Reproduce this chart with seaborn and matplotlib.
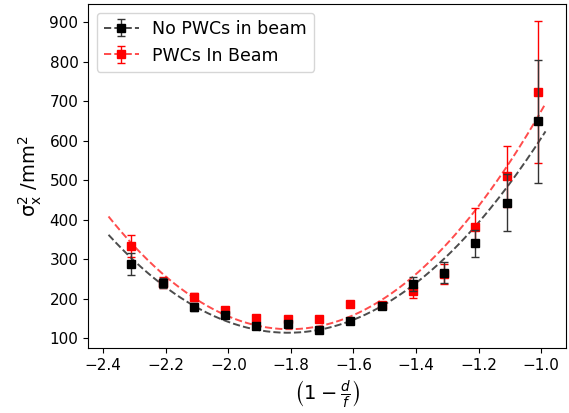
import numpy as np
import pandas as pd
import matplotlib
matplotlib.use("Agg")
import matplotlib.pyplot as plt
import seaborn as sns
from matplotlib.legend_handler import HandlerTuple

# ── Data ──────────────────────────────────────────────────────────────────────
x_pos = [-2.31, -2.21, -2.11, -2.01, -1.91, -1.81, -1.71,
         -1.61, -1.51, -1.41, -1.31, -1.21, -1.11, -1.01]

no_pwc_y   = [289, 239, 178, 159, 131, 137, 120, 144, 182, 238, 266, 340, 443, 649]
no_pwc_err = [28, 13, 10, 8, 6, 6, 5, 6, 8, 18, 27, 34, 72, 156]

pwc_y   = [333, 241, 205, 171, 152, 149, 149, 186, 184, 220, 262, 382, 510, 723]
pwc_err = [28, 13, 10, 8, 6, 6, 6, 7, 8, 17, 25, 48, 78, 180]

# quadratic fit coefficients (a, b, c) for a*x^2 + b*x + c
no_pwc_fit = [752.7, 2723.3, 2577.2]
pwc_fit    = [853.0, 3078.5, 2900.5]
fit_range  = [-2.383, -0.986]

LABELS = ["No PWCs in beam", "PWCs In Beam"]

# ── Build the fit curves ──────────────────────────────────────────────────────
xf = np.linspace(fit_range[0], fit_range[1], 200)
fits = pd.DataFrame({
    "x": np.concatenate([xf, xf]),
    "y": np.concatenate([np.polyval(no_pwc_fit, xf), np.polyval(pwc_fit, xf)]),
    "set": [LABELS[0]] * len(xf) + [LABELS[1]] * len(xf),
})

plt.rcParams["mathtext.fontset"] = "dejavusans"

fig = plt.figure(figsize=(5.69, 4.13), dpi=100)
ax = fig.add_axes([0.155, 0.1567, 0.840, 0.833])

sns.lineplot(data=fits, x="x", y="y", hue="set", palette=["black", "red"],
             linestyle="--", linewidth=1.4, alpha=0.7, legend=False, ax=ax)
lines = ax.get_lines()

eb_black = ax.errorbar(x_pos, no_pwc_y, yerr=no_pwc_err, fmt="s", color="black",
                       ecolor="#333333", elinewidth=1, capsize=3, markersize=6,
                       zorder=3)
eb_red = ax.errorbar(x_pos, pwc_y, yerr=pwc_err, fmt="s", color="red",
                     ecolor="red", elinewidth=1, capsize=3, markersize=6,
                     zorder=2)

ax.set_xlim(-2.448, -0.920)
ax.set_ylim(74.6, 945.7)
ax.set_xticks(np.arange(-2.4, -0.99, 0.2))
ax.set_yticks(range(100, 901, 100))
ax.tick_params(labelsize=11)

ax.set_xlabel(r"$\left(1-\frac{d}{f}\right)$", fontsize=14)
ax.set_ylabel(r"$\mathrm{\sigma_x^2}$ /mm$^2$", fontsize=14)

ax.legend([(lines[0], eb_black), (lines[1], eb_red)], LABELS,
          handler_map={tuple: HandlerTuple(ndivide=1)},
          loc="upper left", fontsize=12.5)

fig.savefig("out.png", dpi=100)
